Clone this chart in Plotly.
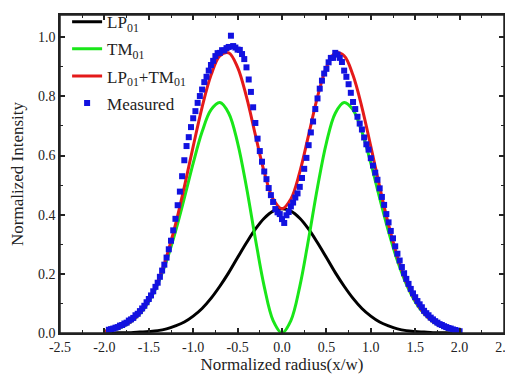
import plotly.graph_objects as go

# ---- fitted curves (at 0.1 steps) ----
x_fit = [-2.0, -1.9, -1.8, -1.7, -1.6, -1.5, -1.4, -1.3, -1.2, -1.1, -1.0,
         -0.9, -0.8, -0.7, -0.6, -0.5, -0.4, -0.3, -0.2, -0.1, 0.0,
         0.1, 0.2, 0.3, 0.4, 0.5, 0.6, 0.7, 0.8, 0.9, 1.0,
         1.1, 1.2, 1.3, 1.4, 1.5, 1.6, 1.7, 1.8, 1.9, 2.0]

lp01 = [0.000, 0.000, 0.001, 0.001, 0.003, 0.005, 0.008, 0.014, 0.024, 0.037, 0.057,
        0.083, 0.117, 0.158, 0.204, 0.255, 0.305, 0.351, 0.388, 0.412, 0.420,
        0.412, 0.388, 0.351, 0.305, 0.255, 0.204, 0.158, 0.117, 0.083, 0.057,
        0.037, 0.024, 0.014, 0.008, 0.005, 0.003, 0.001, 0.001, 0.000, 0.000]

tm01 = [0.006, 0.011, 0.021, 0.038, 0.065, 0.106, 0.165, 0.244, 0.343, 0.456, 0.574,
        0.680, 0.754, 0.779, 0.743, 0.643, 0.493, 0.319, 0.157, 0.042, 0.000,
        0.042, 0.157, 0.319, 0.493, 0.643, 0.743, 0.779, 0.754, 0.680, 0.574,
        0.456, 0.343, 0.244, 0.165, 0.106, 0.065, 0.038, 0.021, 0.011, 0.006]

lp_tm = [0.006, 0.011, 0.022, 0.039, 0.067, 0.111, 0.173, 0.258, 0.366, 0.494, 0.631,
         0.763, 0.871, 0.937, 0.947, 0.898, 0.798, 0.670, 0.544, 0.453, 0.420,
         0.453, 0.544, 0.670, 0.798, 0.898, 0.947, 0.937, 0.871, 0.763, 0.631,
         0.494, 0.366, 0.258, 0.173, 0.111, 0.067, 0.039, 0.022, 0.011, 0.006]

# ---- measured points ----
x_meas = [-1.950, -1.925, -1.900, -1.875, -1.850, -1.825, -1.800, -1.775, -1.750, -1.725,
          -1.700, -1.675, -1.650, -1.625, -1.600, -1.575, -1.550, -1.525, -1.500, -1.475,
          -1.450, -1.425, -1.400, -1.375, -1.350, -1.325, -1.300, -1.275, -1.250, -1.225,
          -1.200, -1.175, -1.150, -1.125, -1.100, -1.075, -1.050, -1.025, -1.000, -0.975,
          -0.950, -0.925, -0.900, -0.875, -0.850, -0.825, -0.800, -0.775, -0.750, -0.725,
          -0.700, -0.675, -0.650, -0.625, -0.600, -0.575, -0.550, -0.525, -0.500, -0.475,
          -0.450, -0.425, -0.400, -0.375, -0.350, -0.325, -0.300, -0.275, -0.250, -0.225,
          -0.200, -0.175, -0.150, -0.125, -0.100, -0.075, -0.050, -0.025, 0.000, 0.025,
          0.050, 0.075, 0.100, 0.125, 0.150, 0.175, 0.200, 0.225, 0.250, 0.275,
          0.300, 0.325, 0.350, 0.375, 0.400, 0.425, 0.450, 0.475, 0.500, 0.525,
          0.550, 0.575, 0.600, 0.625, 0.650, 0.675, 0.700, 0.725, 0.750, 0.775,
          0.800, 0.825, 0.850, 0.875, 0.900, 0.925, 0.950, 0.975, 1.000, 1.025,
          1.050, 1.075, 1.100, 1.125, 1.150, 1.175, 1.200, 1.225, 1.250, 1.275,
          1.300, 1.325, 1.350, 1.375, 1.400, 1.425, 1.450, 1.475, 1.500, 1.525,
          1.550, 1.575, 1.600, 1.625, 1.650, 1.675, 1.700, 1.725, 1.750, 1.775,
          1.800, 1.825, 1.850, 1.875, 1.900, 1.925, 1.950, 1.975, 2.000]

y_meas = [0.011, 0.013, 0.015, 0.018, 0.020, 0.025, 0.027, 0.032, 0.035, 0.042,
          0.046, 0.051, 0.060, 0.065, 0.074, 0.083, 0.092, 0.104, 0.115, 0.127,
          0.141, 0.156, 0.170, 0.190, 0.211, 0.231, 0.255, 0.283, 0.312, 0.347,
          0.386, 0.432, 0.478, 0.530, 0.584, 0.632, 0.662, 0.696, 0.726, 0.750,
          0.778, 0.801, 0.823, 0.848, 0.866, 0.887, 0.906, 0.920, 0.936, 0.946,
          0.947, 0.956, 0.955, 0.963, 0.967, 1.005, 0.970, 0.965, 0.958, 0.957,
          0.943, 0.926, 0.898, 0.857, 0.815, 0.763, 0.710, 0.657, 0.615, 0.579,
          0.546, 0.520, 0.490, 0.466, 0.443, 0.419, 0.408, 0.402, 0.385, 0.372,
          0.398, 0.409, 0.428, 0.441, 0.458, 0.472, 0.494, 0.524, 0.555, 0.592,
          0.635, 0.678, 0.715, 0.757, 0.793, 0.826, 0.853, 0.877, 0.893, 0.915,
          0.930, 0.930, 0.947, 0.941, 0.930, 0.916, 0.887, 0.866, 0.841, 0.812,
          0.781, 0.757, 0.731, 0.708, 0.688, 0.661, 0.638, 0.620, 0.591, 0.566,
          0.542, 0.518, 0.489, 0.460, 0.433, 0.402, 0.374, 0.345, 0.320, 0.293,
          0.268, 0.245, 0.223, 0.202, 0.183, 0.166, 0.149, 0.134, 0.121, 0.108,
          0.097, 0.087, 0.075, 0.067, 0.060, 0.052, 0.046, 0.040, 0.035, 0.030,
          0.027, 0.023, 0.020, 0.017, 0.015, 0.012, 0.010, 0.008, 0.006]

x_ticks = [-2.5, -2.0, -1.5, -1.0, -0.5, 0.0, 0.5, 1.0, 1.5, 2.0, 2.5]
y_ticks = [0.0, 0.2, 0.4, 0.6, 0.8, 1.0]

FONT = "Liberation Serif"

fig = go.Figure()
fig.add_trace(go.Scatter(x=x_fit, y=lp01, mode="lines", name="LP<sub>01</sub>", legendgroup="a",
                         line=dict(color="#000000", width=3, shape="spline")))
fig.add_trace(go.Scatter(x=x_fit, y=tm01, mode="lines", name="TM<sub>01</sub>", legendgroup="b",
                         line=dict(color="#19e619", width=3, shape="spline")))
fig.add_trace(go.Scatter(x=x_fit, y=lp_tm, mode="lines", name="LP<sub>01</sub>+TM<sub>01</sub>",
                         legendgroup="c",
                         line=dict(color="#e41a1a", width=3, shape="spline")))
fig.add_trace(go.Scatter(x=x_meas, y=y_meas, mode="markers", name="Measured", legendgroup="d",
                         marker=dict(symbol="square", size=6, color="#1212e0", line=dict(width=0))))

axis_common = dict(
    showline=True, linecolor="#222222", linewidth=1.5, mirror="ticks",
    ticks="inside", ticklen=5, tickwidth=1.5, tickcolor="#222222",
    showgrid=False, zeroline=False, automargin=False,
    tickfont=dict(family=FONT, size=14, color="#222222"),
)

fig.update_xaxes(range=[-2.5, 2.5], tickvals=x_ticks,
                 ticktext=[f"{v:.1f}" for v in x_ticks],
                 minor=dict(ticks="inside", ticklen=3, tickwidth=1.2, dtick=0.25,
                            tick0=-2.5, tickcolor="#222222", showgrid=False),
                 title=dict(text="Normalized radius(x/w)", standoff=4,
                            font=dict(family=FONT, size=17, color="#222222")),
                 **axis_common)
fig.update_yaxes(range=[0, 1.075], tickvals=y_ticks,
                 ticktext=[f"{v:.1f}" for v in y_ticks],
                 minor=dict(ticks="inside", ticklen=3, tickwidth=1.2, dtick=0.1,
                            tick0=0, tickcolor="#222222", showgrid=False),
                 title=dict(text="Normalized Intensity", standoff=12,
                            font=dict(family=FONT, size=17, color="#222222")),
                 **axis_common)

fig.add_shape(type="rect", xref="paper", yref="paper", x0=0, x1=1, y0=0, y1=1,
              line=dict(color="#222222", width=1.5), fillcolor="rgba(0,0,0,0)", layer="above")

fig.update_layout(
    width=505, height=370,
    margin=dict(l=52, r=9, t=7, b=45, autoexpand=False),
    plot_bgcolor="white", paper_bgcolor="white",
    font=dict(family=FONT, color="#222222"),
    legend=dict(x=0.016, y=1.034, xanchor="left", yanchor="top",
                bgcolor="rgba(0,0,0,0)", borderwidth=0,
                font=dict(family=FONT, size=17, color="#222222"),
                tracegroupgap=2),
    showlegend=True,
)

fig.write_html("out.html")
